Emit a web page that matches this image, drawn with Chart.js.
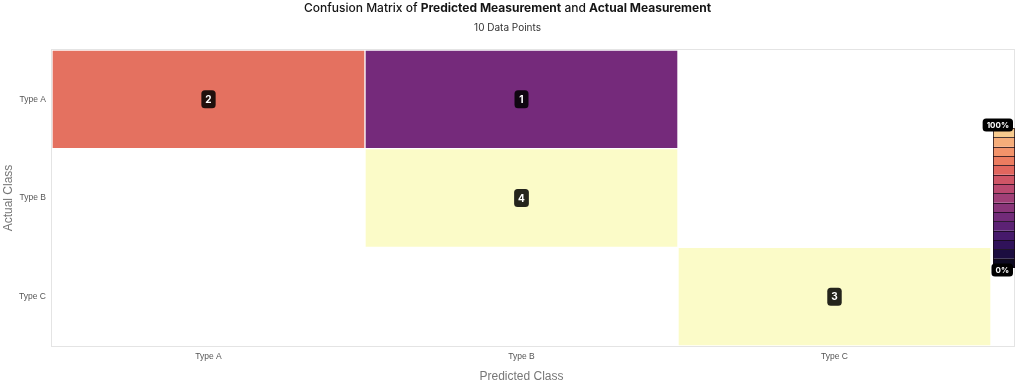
<!DOCTYPE html>
<html><head><meta charset="utf-8">
<script src="https://cdn.jsdelivr.net/npm/chart.js@4"></script>
<style>html,body{margin:0;padding:0;background:#fff}#wrap{width:1024px;height:388px;position:relative}canvas{display:block}</style>
</head><body><div id="wrap"><canvas id="c" width="1024" height="388"></canvas></div>
<script>
// ---- data ----
const predictedClasses = ['Type A', 'Type B', 'Type C'];
const actualClasses = ['Type A', 'Type B', 'Type C'];
const countsActualTypeA = [2, 1, 0];
const countsActualTypeB = [0, 4, 0];
const countsActualTypeC = [0, 0, 3];
const legendTickLabels = ['100%', '0%'];
const titleParts = [
  { text: 'Confusion Matrix of ', bold: false },
  { text: 'Predicted Measurement', bold: true },
  { text: ' and ', bold: false },
  { text: 'Actual Measurement', bold: true }
];
const subtitleText = '10 Data Points';
const xAxisTitle = 'Predicted Class';
const yAxisTitle = 'Actual Class';

// ---- styles ----
const FONT = 'Inter, "Liberation Sans", sans-serif';
const TICK_FONT = '"Liberation Sans", Arial, sans-serif';
const colorStops = [
  [0, [0, 0, 4]],
  [1 / 3, [117, 42, 123]],
  [2 / 3, [228, 113, 96]],
  [1, [251, 251, 200]]
];
const legendColors = ['#F8CB8E', '#F6AD7A', '#F3936A', '#EC7C60', '#E1665E', '#CF5566', '#BA4970', '#A03F77',
  '#893579', '#722B79', '#5C2274', '#461A6B', '#30125A', '#1C0D40', '#0D0A22'];

function fracColor(f) {
  for (let i = 1; i < colorStops.length; i++) {
    const [p1, c1] = colorStops[i];
    const [p0, c0] = colorStops[i - 1];
    if (f <= p1 + 1e-9) {
      const t = (f - p0) / (p1 - p0);
      const c = c0.map((v, k) => Math.round(v + (c1[k] - v) * t));
      return `rgb(${c[0]},${c[1]},${c[2]})`;
    }
  }
  return 'rgb(251,251,200)';
}

const rows = [countsActualTypeA, countsActualTypeB, countsActualTypeC];
const cells = [];
rows.forEach((row, i) => {
  const total = row.reduce((a, b) => a + b, 0);
  row.forEach((v, j) => {
    cells.push({ x: predictedClasses[j], y: [i, i + 1], count: v, frac: total ? v / total : 0 });
  });
});

const plotBorder = {
  id: 'plotBorder',
  afterDraw(chart) {
    const { ctx, chartArea: a } = chart;
    ctx.save();
    ctx.strokeStyle = '#e4e4e4';
    ctx.lineWidth = 1;
    ctx.strokeRect(a.left - 0.5, a.top - 0.5, (a.right + 23) - a.left + 1, a.bottom - a.top + 1);
    ctx.restore();
  }
};

const titlePlugin = {
  id: 'richTitle',
  afterDraw(chart) {
    const { ctx } = chart;
    const cx = 507.5;
    ctx.save();
    ctx.textBaseline = 'middle';
    ctx.fillStyle = '#151515';
    const fonts = titleParts.map(p => (p.bold ? '700 ' : '500 ') + '12px ' + FONT);
    let total = 0;
    const widths = titleParts.map((p, i) => { ctx.font = fonts[i]; const w = ctx.measureText(p.text).width; total += w; return w; });
    let x = cx - total / 2;
    ctx.textAlign = 'left';
    titleParts.forEach((p, i) => { ctx.font = fonts[i]; ctx.fillText(p.text, x, 8); x += widths[i]; });
    ctx.font = '400 10px ' + FONT;
    ctx.fillStyle = '#333';
    ctx.textAlign = 'center';
    ctx.fillText(subtitleText, cx, 28);
    ctx.restore();
  }
};

function pill(ctx, cx, cy, w, h, r, fill) {
  ctx.beginPath();
  ctx.roundRect(cx - w / 2, cy - h / 2, w, h, r);
  ctx.fillStyle = fill;
  ctx.fill();
}

const cellLabels = {
  id: 'cellLabels',
  afterDatasetsDraw(chart) {
    const { ctx } = chart;
    const meta = chart.getDatasetMeta(0);
    ctx.save();
    ctx.font = '700 10px ' + FONT;
    ctx.textAlign = 'center';
    ctx.textBaseline = 'middle';
    meta.data.forEach((el, k) => {
      const c = cells[k];
      if (!c.count) return;
      const p = el.getCenterPoint();
      const t = String(c.count);
      const w = Math.max(14, ctx.measureText(t).width + 8);
      pill(ctx, p.x, p.y, w, 18, 3.5, 'rgba(0,0,0,0.86)');
      ctx.fillStyle = '#fff';
      ctx.fillText(t, p.x, p.y + 0.5);
    });
    ctx.restore();
  }
};

const colorLegend = {
  id: 'colorLegend',
  afterDraw(chart) {
    const { ctx, chartArea: a } = chart;
    const left = a.right + 2, right = a.right + 24;
    const cy = (a.top + a.bottom) / 2;
    const h = 140, top = cy - h / 2;
    const seg = h / legendColors.length;
    ctx.save();
    legendColors.forEach((col, i) => {
      ctx.fillStyle = col;
      ctx.fillRect(left, top + i * seg, right - left, seg);
    });
    ctx.strokeStyle = 'rgba(20,10,20,0.75)';
    ctx.lineWidth = 1;
    for (let i = 1; i < legendColors.length; i++) {
      const y = Math.round(top + i * seg) + 0.5;
      ctx.beginPath(); ctx.moveTo(left, y); ctx.lineTo(right, y); ctx.stroke();
    }
    ctx.strokeRect(left + 0.5, top + 0.5, right - left - 1, h - 1);
    ctx.font = '700 8px ' + FONT;
    ctx.textAlign = 'center';
    ctx.textBaseline = 'middle';
    const labels = [[legendTickLabels[0], top - 3], [legendTickLabels[1], top + h + 2]];
    labels.forEach(([t, y]) => {
      const w = ctx.measureText(t).width + 8;
      const bx = right - 2 - w / 2;
      pill(ctx, bx, y, w, 13, 3.5, '#000');
      ctx.fillStyle = '#fff';
      ctx.fillText(t, bx, y + 0.5);
    });
    ctx.restore();
  }
};

new Chart(document.getElementById('c'), {
  type: 'bar',
  data: {
    datasets: [{
      data: cells,
      backgroundColor: cells.map(c => c.count ? fracColor(c.frac) : '#ffffff'),
      borderColor: 'rgba(255,255,255,0.55)',
      borderWidth: 1,
      borderSkipped: false,
      barPercentage: 1,
      categoryPercentage: 1
    }]
  },
  options: {
    responsive: false,
    animation: false,
    devicePixelRatio: 1,
    layout: { padding: { top: 50, right: 33, left: 0, bottom: 0 } },
    plugins: { legend: { display: false }, title: { display: false }, tooltip: { enabled: false } },
    scales: {
      x: {
        type: 'category',
        labels: predictedClasses,
        offset: true,
        grid: { display: false, drawTicks: false },
        border: { display: false },
        ticks: { font: { family: TICK_FONT, size: 8.5 }, color: '#555', padding: 6 },
        title: { display: true, text: xAxisTitle, font: { family: TICK_FONT, size: 12 }, color: '#777', padding: { top: 4, bottom: 4 } },
        afterFit(s) { s.height = 42; }
      },
      y: {
        type: 'linear',
        min: 0, max: 3,
        reverse: true,
        afterBuildTicks(s) { s.ticks = actualClasses.map((_, i) => ({ value: i + 0.5 })); },
        grid: { display: false, drawTicks: false },
        border: { display: false },
        ticks: { callback: v => actualClasses[Math.floor(v)], font: { family: TICK_FONT, size: 8.5 }, color: '#555', padding: 6 },
        title: { display: true, text: yAxisTitle, font: { family: TICK_FONT, size: 12 }, color: '#777', padding: { top: 1, bottom: 0 } },
        afterFit(s) { s.width = 52; }
      }
    }
  },
  plugins: [plotBorder, cellLabels, colorLegend, titlePlugin]
});
</script>
</body></html>
